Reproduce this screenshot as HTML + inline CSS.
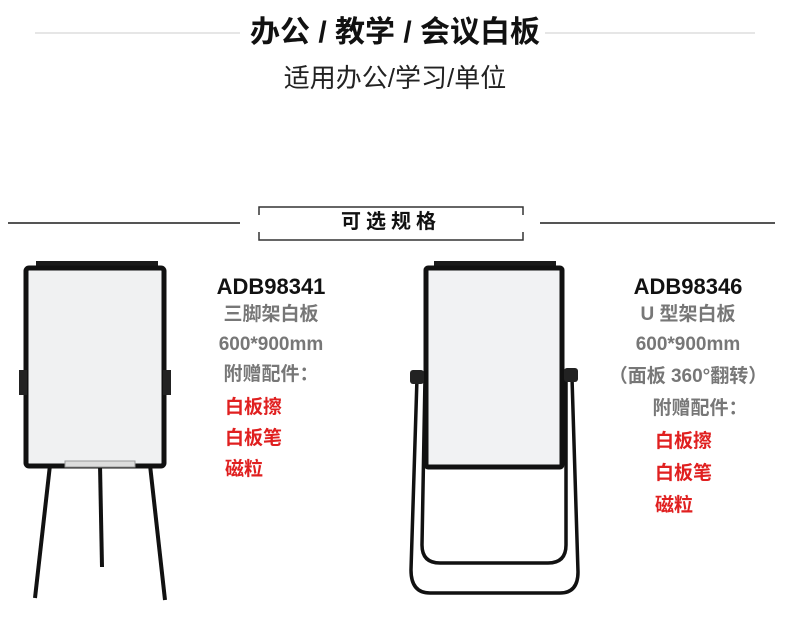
<!DOCTYPE html>
<html><head><meta charset="utf-8"><style>
body{margin:0;width:790px;height:630px;background:#fff;position:relative;overflow:hidden;font-family:"Liberation Sans","Noto Sans CJK SC",sans-serif}
.t{position:absolute;white-space:nowrap;line-height:1}
.g{color:#777;font-weight:bold;font-size:19px}
.r{color:#e02020;font-weight:bold;font-size:19px}
.m{font-weight:bold;font-size:22px;color:#111}
</style></head><body>
<svg width="790" height="630" style="position:absolute;left:0;top:0">
<line x1="35" y1="33" x2="755" y2="33" stroke="#ccc" stroke-width="1"/>
<rect x="240" y="15" width="305" height="36" fill="#fff"/>
<line x1="8" y1="223" x2="240" y2="223" stroke="#555" stroke-width="2"/>
<line x1="540" y1="223" x2="775" y2="223" stroke="#555" stroke-width="2"/>
<path d="M259,215V207H523V215M259,232V240H523V232" fill="none" stroke="#333" stroke-width="1.5"/>
<g stroke="#111" fill="none" stroke-width="4">
<line x1="50" y1="465" x2="35" y2="598"/>
<line x1="100" y1="465" x2="102" y2="567"/>
<line x1="150" y1="465" x2="165" y2="600"/>
</g>
<rect x="36" y="261" width="122" height="10" fill="#1a1a1a"/>
<rect x="26" y="268" width="138" height="198" rx="3" fill="#f0f1f2" stroke="#111" stroke-width="5"/>
<rect x="65" y="461" width="70" height="6" fill="#ddd" stroke="#999"/>
<rect x="19" y="370" width="8" height="25" fill="#222"/>
<rect x="163" y="370" width="8" height="25" fill="#222"/>
<g stroke="#111" fill="none" stroke-width="3.5">
<path d="M417,378 L411,570 Q411,593 430,593 L560,593 Q578,593 578,572 L572,378"/>
<path d="M425,378 L422,545 Q422,563 440,563 L548,563 Q566,563 566,545 L566,378"/>
</g>
<rect x="434" y="261" width="122" height="8" fill="#1a1a1a"/>
<rect x="426" y="268" width="136" height="199" rx="2" fill="#f1f2f3" stroke="#111" stroke-width="5"/>
<rect x="410" y="370" width="14" height="14" rx="3" fill="#222"/>
<rect x="564" y="368" width="14" height="14" rx="3" fill="#222"/>
</svg>
<div class="t" style="left:0;width:790px;text-align:center;top:18px;font-size:30px;font-weight:bold;color:#111">办公 / 教学 / 会议白板</div>
<div class="t" style="left:0;width:790px;text-align:center;top:65px;font-size:26px;color:#222">适用办公/学习/单位</div>
<div class="t" style="left:259px;width:264px;text-align:center;top:212px;font-size:20px;font-weight:bold;letter-spacing:5px;color:#111">可选规格</div>

<div class="t m" style="left:171px;width:200px;text-align:center;top:276px">ADB98341</div>
<div class="t g" style="left:171px;width:200px;text-align:center;top:305px">三脚架白板</div>
<div class="t g" style="left:171px;width:200px;text-align:center;top:335px">600*900mm</div>
<div class="t g" style="left:171px;width:200px;text-align:center;top:365px">附赠配件：</div>
<div class="t r" style="left:225px;top:398px">白板擦</div>
<div class="t r" style="left:225px;top:429px">白板笔</div>
<div class="t r" style="left:225px;top:460px">磁粒</div>

<div class="t m" style="left:588px;width:200px;text-align:center;top:276px">ADB98346</div>
<div class="t g" style="left:588px;width:200px;text-align:center;top:305px">U 型架白板</div>
<div class="t g" style="left:588px;width:200px;text-align:center;top:335px">600*900mm</div>
<div class="t g" style="left:588px;width:200px;text-align:center;top:367px">（面板 360°翻转）</div>
<div class="t g" style="left:600px;width:200px;text-align:center;top:399px">附赠配件：</div>
<div class="t r" style="left:655px;top:432px">白板擦</div>
<div class="t r" style="left:655px;top:464px">白板笔</div>
<div class="t r" style="left:655px;top:496px">磁粒</div>
</body></html>
